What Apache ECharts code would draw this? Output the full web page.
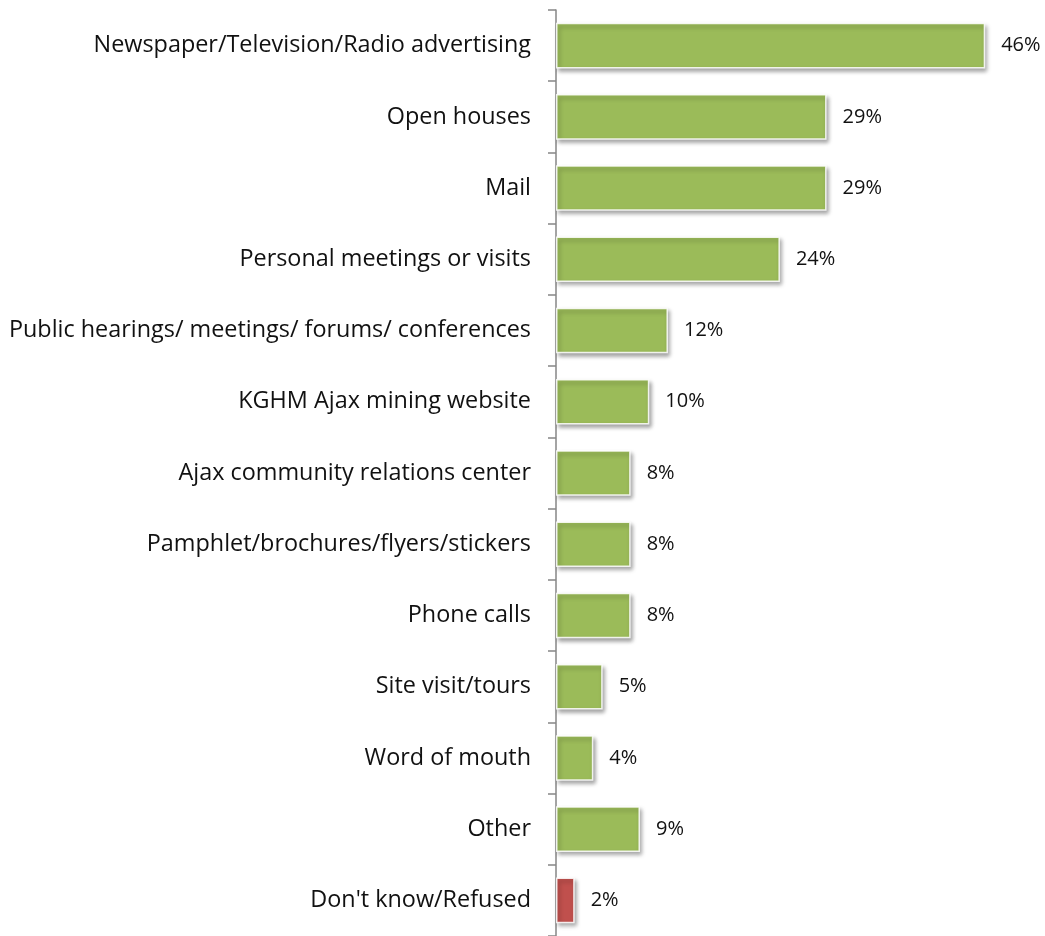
<!DOCTYPE html>
<html>
<head>
<meta charset="utf-8">
<script src="https://cdn.jsdelivr.net/npm/echarts@6/dist/echarts.min.js"></script>
<style>
  html, body { margin: 0; padding: 0; background: #fff; }
  #chart { width: 1045px; height: 936px; }
</style>
</head>
<body>
<div id="chart"></div>
<script>
// Sources of information (percent of respondents)
const categories = [
  "Newspaper/Television/Radio advertising",
  "Open houses",
  "Mail",
  "Personal meetings or visits",
  "Public hearings/ meetings/ forums/ conferences",
  "KGHM Ajax mining website",
  "Ajax community relations center",
  "Pamphlet/brochures/flyers/stickers",
  "Phone calls",
  "Site visit/tours",
  "Word of mouth",
  "Other",
  "Don't know/Refused"
];
const values = [46, 29, 29, 24, 12, 10, 8, 8, 8, 5, 4, 9, 2];
const refusedCategory = "Don't know/Refused";

const GREEN = '#9BBB59';
const RED = '#C0504D';
const FONT = '"Open Sans", "Noto Sans", sans-serif';

const chart = echarts.init(document.getElementById('chart'));
chart.setOption({
  animation: false,
  grid: { left: 556, top: 10, width: 466.5, height: 929.5, containLabel: false },
  xAxis: {
    type: 'value', min: 0, max: 50, show: false
  },
  yAxis: {
    type: 'category',
    data: categories,
    inverse: true,
    axisLine: { show: true, lineStyle: { color: '#868686', width: 1.5 } },
    axisTick: { show: true, length: 8, lineStyle: { color: '#868686', width: 1.5 } },
    axisLabel: {
      margin: 25, color: '#111', fontSize: 23.4, fontFamily: FONT,
      padding: [10, 0, 0, 0]
    },
    splitLine: { show: false }
  },
  series: [{
    type: 'bar',
    data: values.map((v, i) => ({
      value: v,
      itemStyle: { color: categories[i] === refusedCategory ? RED : GREEN }
    })),
    barCategoryGap: '36%',
    itemStyle: {
      borderColor: 'rgba(255,255,255,0.85)', borderWidth: 1.5,
      shadowColor: 'rgba(0,0,0,0.35)', shadowBlur: 4,
      shadowOffsetX: 2, shadowOffsetY: 3
    },
    label: {
      show: true, position: 'right', distance: 16,
      formatter: p => p.value + '%',
      color: '#111', fontSize: 20, fontFamily: FONT,
      padding: [10, 0, 0, 0]
    }
  }]
});
</script>
</body>
</html>
